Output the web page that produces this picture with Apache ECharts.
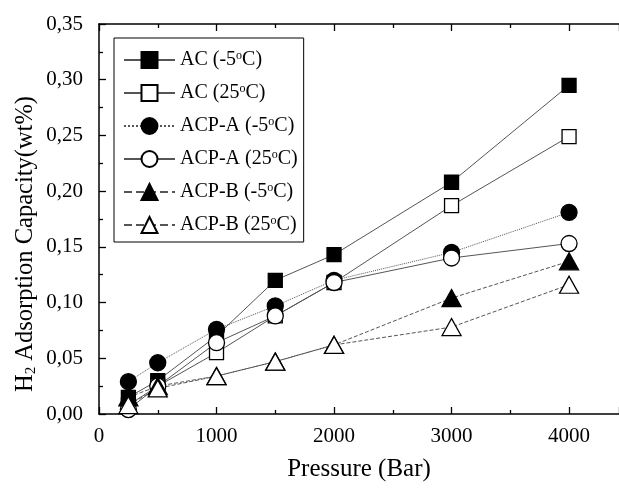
<!DOCTYPE html>
<html>
<head>
<meta charset="utf-8">
<script src="https://cdn.jsdelivr.net/npm/echarts@6/dist/echarts.min.js"></script>
<style>
  html, body { margin: 0; padding: 0; background: #fff; }
  #chart { width: 619px; height: 489px; }
</style>
</head>
<body>
<div id="chart"></div>
<script>
// pressure points (Bar)
const pressure = [250, 500, 1000, 1500, 2000, 3000, 4000];

// H2 adsorption capacity (wt%)
const acCold = [0.015, 0.030, 0.070, 0.120, 0.143, 0.208, 0.295];
const acWarm = [0.008, 0.025, 0.055, 0.088, 0.118, 0.187, 0.249];
const acpACold = [0.029, 0.046, 0.076, 0.097, 0.120, 0.145, 0.181];
const acpAWarm = [0.004, 0.025, 0.064, 0.088, 0.118, 0.140, 0.153];
const acpBCold = [0.015, 0.025, 0.034, 0.047, 0.062, 0.104, 0.137];
const acpBWarm = [0.008, 0.023, 0.034, 0.047, 0.062, 0.078, 0.116];

const yTicks = ['0,00', '0,05', '0,10', '0,15', '0,20', '0,25', '0,30', '0,35'];
const xTicks = ['0', '1000', '2000', '3000', '4000'];

const font = '"Liberation Serif", "DejaVu Serif", serif';

const chart = echarts.init(document.getElementById('chart'));

function pairs(vals) {
  return pressure.map((p, i) => [p, vals[i]]);
}

// name, data, symbol, filled, line type, symbol size
const seriesDefs = [
  ['AC (-5', acCold, 'rect', true, 'solid', 14],
  ['AC (25', acWarm, 'rect', false, 'solid', 14],
  ['ACP-A (-5', acpACold, 'circle', true, 'dotted', 16],
  ['ACP-A (25', acpAWarm, 'circle', false, 'solid', 16],
  ['ACP-B (-5', acpBCold, 'triangle', true, 'dashed', [19, 17]],
  ['ACP-B (25', acpBWarm, 'triangle', false, 'dashed', [19, 17]]
];

const series = seriesDefs.map(d => ({
  name: d[0],
  type: 'line',
  data: pairs(d[1]),
  symbol: d[2],
  symbolSize: d[5],
  showAllSymbol: true,
  lineStyle: { color: '#555', width: 1, type: d[4] },
  itemStyle: {
    color: d[3] ? '#000' : '#fff',
    borderColor: '#000',
    borderWidth: 1.3
  },
  emphasis: { disabled: true },
  z: 2
}));

const tickStyle = { color: '#000', width: 1.3 };

chart.setOption({
  backgroundColor: '#fff',
  animation: false,
  textStyle: { fontFamily: font },
  grid: { left: 99, top: 24, right: 0, bottom: 75, outerBoundsMode: 'none' },
  legend: {
    orient: 'vertical',
    left: 114,
    top: 38,
    padding: [12, 6, 7, 9],
    itemGap: 13,
    itemWidth: 51,
    itemHeight: 20,
    borderColor: '#000',
    borderWidth: 1,
    backgroundColor: '#fff',
    formatter: n => '{t|' + n + '}{s|o}{t|C)}',
    textStyle: {
      fontFamily: font,
      color: '#000',
      rich: {
        t: { fontFamily: font, fontSize: 20, color: '#000', lineHeight: 20 },
        s: { fontFamily: font, fontSize: 12, color: '#000', lineHeight: 12, verticalAlign: 'top' }
      }
    }
  },
  xAxis: [
    {
      type: 'value',
      min: 0,
      max: 4425,
      interval: 1000,
      name: 'Pressure (Bar)',
      nameLocation: 'middle',
      nameGap: 43,
      nameTextStyle: { fontFamily: font, fontSize: 25, color: '#000' },
      axisLine: { onZero: false, lineStyle: { color: '#000', width: 1.5 } },
      axisTick: { inside: true, length: 7, lineStyle: tickStyle },
      minorTick: { show: true, splitNumber: 2, length: 4, lineStyle: tickStyle },
      axisLabel: {
        fontFamily: font, fontSize: 21, color: '#000', margin: 12,
        formatter: v => (v % 1000 === 0 ? xTicks[v / 1000] : '')
      },
      splitLine: { show: false }
    },
    {
      type: 'value',
      position: 'top',
      min: 0,
      max: 4425,
      interval: 1000,
      axisLine: { onZero: false, lineStyle: { color: '#000', width: 1.5 } },
      axisTick: { inside: true, length: 7, lineStyle: tickStyle },
      minorTick: { show: true, splitNumber: 2, length: 4, lineStyle: tickStyle },
      axisLabel: { show: false },
      splitLine: { show: false }
    }
  ],
  yAxis: {
    type: 'value',
    min: 0,
    max: 0.35,
    interval: 0.05,
    name: '{n|H}{sub|2}{n| Adsorption Capacity(wt%)}',
    nameLocation: 'middle',
    nameGap: 60,
    nameMoveOverlap: false,
    nameRotate: 90,
    nameTextStyle: {
      padding: [0, 50, 0, 0],
      rich: {
        n: { fontFamily: font, fontSize: 24.5, color: '#000' },
        sub: { fontFamily: font, fontSize: 15, color: '#000', verticalAlign: 'bottom', padding: [12, 0, 0, 0] }
      }
    },
    axisLine: { show: true, lineStyle: { color: '#000', width: 1.5 } },
    axisTick: { inside: true, length: 7, lineStyle: tickStyle },
    minorTick: { show: true, splitNumber: 2, length: 4, lineStyle: tickStyle },
    axisLabel: {
      fontFamily: font, fontSize: 21, color: '#000', margin: 16,
      formatter: v => yTicks[Math.round(v / 0.05)]
    },
    splitLine: { show: false }
  },
  series: series
});
</script>
</body>
</html>
